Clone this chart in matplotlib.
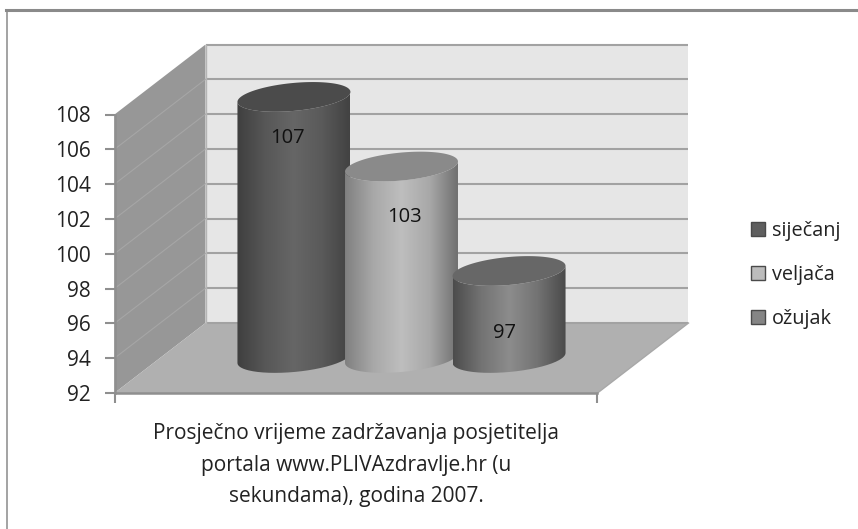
import numpy as np
import matplotlib
matplotlib.use("Agg")
import matplotlib.pyplot as plt
from matplotlib.colors import LinearSegmentedColormap
from matplotlib.lines import Line2D
from matplotlib.patches import Patch, PathPatch, Polygon
from matplotlib.path import Path

months = ["siječanj", "veljača", "ožujak"]
values = [107, 103, 97]
positions = [-1, 0, 1]
y_ticks = list(range(92, 110, 2))
caption = "Prosječno vrijeme zadržavanja posjetitelja\nportala www.PLIVAzdravlje.hr (u\nsekundama), godina 2007."

W, H = 858, 529
plt.rcParams["font.family"] = ["Open Sans", "DejaVu Sans"]
fig = plt.figure(figsize=(W / 100, H / 100), dpi=100, facecolor="white")

# front plane of the 3D box, in pixels
L, R, T, B = 114.5, 597.5, 114.5, 393.0
ax = fig.add_axes([L / W, 1 - B / H, (R - L) / W, (B - T) / H], facecolor="none")
XMIN, XMAX = -2.245, 2.245
YMIN, YMAX = 92, 108
ax.set_xlim(XMIN, XMAX)
ax.set_ylim(YMIN, YMAX)

PXX = (R - L) / (XMAX - XMIN)   # pixels per x unit
PXY = (B - T) / (YMAX - YMIN)   # pixels per y unit
DX = 91 / PXX                   # depth shift in x units
DY = 70 / PXY                   # depth shift in y units


def proj(x, y, d=0.0):
    return x + d * DX, y + d * DY


def poly(points, **kw):
    ax.add_patch(Polygon(points, closed=True, clip_on=False, **kw))


X0 = XMIN
X1 = XMAX
# back wall
poly([proj(X0, YMIN, 1), proj(X1, YMIN, 1), proj(X1, YMAX, 1), proj(X0, YMAX, 1)],
     facecolor="#e6e6e6", edgecolor="none", zorder=1)
# side wall
poly([proj(X0, YMIN, 0), proj(X0, YMIN, 1), proj(X0, YMAX, 1), proj(X0, YMAX, 0)],
     facecolor="#979797", edgecolor="none", zorder=1)
# floor
poly([proj(X0, YMIN, 0), proj(X1, YMIN, 0), proj(X1, YMIN, 1), proj(X0, YMIN, 1)],
     facecolor="#b0b0b0", edgecolor="none", zorder=1.1)

# grid
for v in y_ticks:
    x_a, y_a = proj(X0, v, 1)
    x_b, y_b = proj(X1, v, 1)
    ax.plot([x_a, x_b], [y_a, y_b], color="#a2a2a2", lw=1.5, clip_on=False, zorder=1.2,
            solid_capstyle="butt")
    x_c, y_c = proj(X0, v, 0)
    if v < YMAX and v > YMIN:
        ax.plot([x_c, x_a], [y_c, y_a], color="#a6a6a6", lw=0.8, clip_on=False, zorder=1.2)
# wall edge lines
ax.plot(*zip(proj(X0, YMIN, 1), proj(X0, YMAX, 1)), color="#b5b5b5", lw=1, clip_on=False, zorder=1.3)
ax.plot(*zip(proj(X1, YMIN, 0), proj(X1, YMIN, 1)), color="#a8a8a8", lw=1, clip_on=False, zorder=1.3)

# cylinders
BAR_W = 1.05
TILT = -10 / 113          # slope of ellipse major axis, pixel per pixel
B_SEMI = 14.0             # semi-minor height in pixels
edge_cols = [["#3f3f3f", "#575757", "#666666", "#5a5a5a", "#424242"],
             ["#808080", "#a8a8a8", "#bebebe", "#a8a8a8", "#707070"],
             ["#4c4c4c", "#737373", "#8c8c8c", "#737373", "#4a4a4a"]]
top_cols = ["#4b4b4b", "#8a8a8a", "#676767"]
legend_cols = ["#5f5f5f", "#bcbcbc", "#858585"]
label_dx = [-6, 3, -5]
label_dy = [-41, -50, -62]


def arc(cx, cy, t):
    a = BAR_W / 2
    x = cx + a * np.cos(t)
    y = cy + (a * PXX * np.cos(t) * (-TILT) + B_SEMI * np.sin(t)) / PXY
    return x, y


for i, (p, v) in enumerate(zip(positions, values)):
    cx, base = proj(p, YMIN, 0.5)
    cx_top, top = proj(p, v, 0.5)
    t_low = np.linspace(np.pi, 2 * np.pi, 80)
    t_all = np.linspace(0, 2 * np.pi, 160)
    xb, yb = arc(cx, base, t_low)
    xt, yt = arc(cx, top, t_low)
    outline = np.column_stack([np.r_[xb, xt[::-1]], np.r_[yb, yt[::-1]]])
    z = 3 + i
    body = PathPatch(Path(np.vstack([outline, outline[0]])), facecolor="none",
                     edgecolor="none", transform=ax.transData)
    ax.add_patch(body)
    body.set_clip_on(False)
    cmap = LinearSegmentedColormap.from_list("c", edge_cols[i])
    im = ax.imshow(np.linspace(0, 1, 256).reshape(1, -1), cmap=cmap, aspect="auto",
                   extent=[cx - BAR_W / 2, cx + BAR_W / 2, yb.min(), yt.max()],
                   zorder=z)
    im.set_clip_box(fig.bbox)
    im.set_clip_path(body)
    xe, ye = arc(cx, top, t_all)
    poly(np.column_stack([xe, ye]), facecolor=top_cols[i], edgecolor="none", zorder=z + 0.1)
    ax.annotate(str(v), (p + 0.5 * DX, top), xytext=(label_dx[i] * 0.72, label_dy[i] * 0.72),
                textcoords="offset points", ha="center", va="center", fontsize=14.5,
                color="#111111", zorder=10, annotation_clip=False)

ax.set_xlim(XMIN, XMAX)
ax.set_ylim(YMIN, YMAX)

# axes
for s in ("top", "right"):
    ax.spines[s].set_visible(False)
for s in ("left", "bottom"):
    ax.spines[s].set_color("#8f8f8f")
    ax.spines[s].set_linewidth(1.8)
    ax.spines[s].set_zorder(2)
ax.set_yticks(y_ticks)
ax.set_xticks([XMIN, XMAX])
ax.set_xticklabels([])
ax.tick_params(axis="y", length=7, width=1.5, color="#8f8f8f", labelsize=15, labelcolor="#222222", pad=10)
ax.tick_params(axis="x", length=7, width=1.5, color="#8f8f8f")
ax.set_xlabel(caption, fontsize=15, color="#222222", linespacing=1.67, labelpad=11)

# legend
handles = [Patch(facecolor=c, edgecolor="#4a4a4a", lw=1) for c in legend_cols]
fig.legend(handles, months, loc="center left", bbox_to_anchor=(751 / W, 1 - 275 / H), frameon=False,
           fontsize=14.3, labelcolor="#222222", handlelength=0.7, handleheight=0.7, handletextpad=0.35,
           labelspacing=1.2, borderpad=0, borderaxespad=0)

# chart frame
fig.add_artist(Line2D([6 / W, 1], [1 - 10 / H, 1 - 10 / H], color="#8a8a8a", lw=2.2, transform=fig.transFigure))
fig.add_artist(Line2D([6.5 / W, 6.5 / W], [0, 1 - 10 / H], color="#8a8a8a", lw=1.1, transform=fig.transFigure))

fig.savefig("out.png", dpi=100, facecolor="white")
